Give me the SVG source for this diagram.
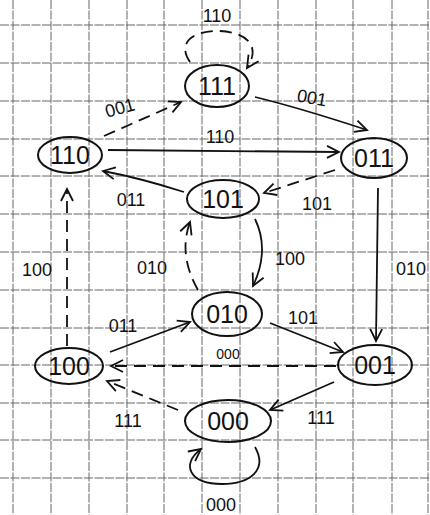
<svg xmlns="http://www.w3.org/2000/svg" width="430" height="515" viewBox="0 0 430 515">
<style>
.grid line{stroke:#666;stroke-width:1;stroke-dasharray:9,1.5}
.node ellipse{fill:none;stroke:#111;stroke-width:2}
.node text{font-family:"Liberation Sans",Arial,sans-serif;font-size:25px;fill:#111;text-anchor:middle}
.edge{fill:none;stroke:#111;stroke-width:1.8;marker-end:url(#arr)}
.dash{stroke-dasharray:12,7}
.lbl{font-family:"Liberation Sans",Arial,sans-serif;font-size:18px;fill:#111;text-anchor:middle}
</style>
<defs>
<marker id="arr" markerUnits="userSpaceOnUse" markerWidth="16" markerHeight="16" refX="13" refY="7" orient="auto" viewBox="0 0 16 14">
<path d="M1,1 L13,7 L1,13" fill="none" stroke="#111" stroke-width="1.8"/>
</marker>
</defs>
<rect width="430" height="515" fill="#fff"/>
<g class="grid">
<line x1="13" y1="0" x2="13" y2="515"/><line x1="51" y1="0" x2="51" y2="515"/><line x1="89" y1="0" x2="89" y2="515"/><line x1="127" y1="0" x2="127" y2="515"/><line x1="164" y1="0" x2="164" y2="515"/><line x1="202" y1="0" x2="202" y2="515"/><line x1="240" y1="0" x2="240" y2="515"/><line x1="278" y1="0" x2="278" y2="515"/><line x1="316" y1="0" x2="316" y2="515"/><line x1="353" y1="0" x2="353" y2="515"/><line x1="392" y1="0" x2="392" y2="515"/><line x1="428" y1="0" x2="428" y2="515"/>
<line x1="0" y1="25" x2="430" y2="25"/><line x1="0" y1="63" x2="430" y2="63"/><line x1="0" y1="101" x2="430" y2="101"/><line x1="0" y1="139" x2="430" y2="139"/><line x1="0" y1="176" x2="430" y2="176"/><line x1="0" y1="214" x2="430" y2="214"/><line x1="0" y1="252" x2="430" y2="252"/><line x1="0" y1="290" x2="430" y2="290"/><line x1="0" y1="328" x2="430" y2="328"/><line x1="0" y1="365" x2="430" y2="365"/><line x1="0" y1="403" x2="430" y2="403"/><line x1="0" y1="440" x2="430" y2="440"/><line x1="0" y1="478" x2="430" y2="478"/>
</g>
<g id="edges">
<path class="edge dash" d="M190,62 C175,40 198,30 220,31 C245,32 262,45 247,68"/>
<text class="lbl" x="217" y="22">110</text>
<path class="edge dash" d="M104,136 L181,102"/>
<text class="lbl" x="120" y="114" transform="rotate(-15 120 108)">001</text>
<path class="edge" d="M255,97 Q300,108 367,130"/>
<text class="lbl" x="312" y="104" transform="rotate(10 312 98)">001</text>
<path class="edge" d="M108,150 L339,152"/>
<text class="lbl" x="220" y="143">110</text>
<path class="edge" d="M184,192 Q140,178 103,171"/>
<text class="lbl" x="131" y="206">011</text>
<path class="edge dash" d="M335,170 L264,193"/>
<text class="lbl" x="317" y="210">101</text>
<path class="edge dash" d="M67,346 L67,189"/>
<text class="lbl" x="37" y="276">100</text>
<path class="edge dash" d="M198,290 Q178,255 190,222"/>
<text class="lbl" x="152" y="274">010</text>
<path class="edge" d="M255,219 Q270,250 253,286"/>
<text class="lbl" x="290" y="265">100</text>
<path class="edge" d="M378,188 L376,341"/>
<text class="lbl" x="411" y="275">010</text>
<path class="edge" d="M110,352 L190,322"/>
<text class="lbl" x="123" y="332">011</text>
<path class="edge" d="M270,323 L343,352"/>
<text class="lbl" x="303" y="324">101</text>
<path class="edge dash" d="M336,366 L111,366"/>
<text class="lbl" x="228" y="359" style="font-size:14px">000</text>
<path class="edge dash" d="M178,410 L107,381"/>
<text class="lbl" x="128" y="427">111</text>
<path class="edge" d="M334,382 L270,410"/>
<text class="lbl" x="321" y="424">111</text>
<path class="edge" d="M255,447 C268,470 250,484 222,484 C190,484 180,465 201,449"/>
<text class="lbl" x="221" y="511">000</text>
</g>
<g id="n111" class="node"><ellipse cx="217" cy="86" rx="32" ry="21"/><text x="217" y="95">111</text></g>
<g id="n110" class="node"><ellipse cx="70" cy="155" rx="32" ry="18"/><text x="70" y="164">110</text></g>
<g id="n011" class="node"><ellipse cx="374" cy="158" rx="33" ry="20"/><text x="374" y="167">011</text></g>
<g id="n101" class="node"><ellipse cx="223" cy="199" rx="36" ry="19"/><text x="223" y="208">101</text></g>
<g id="n010" class="node"><ellipse cx="227" cy="314" rx="35" ry="22"/><text x="227" y="323">010</text></g>
<g id="n100" class="node"><ellipse cx="69" cy="366" rx="34" ry="18"/><text x="69" y="375">100</text></g>
<g id="n001" class="node"><ellipse cx="375" cy="365" rx="37" ry="20"/><text x="375" y="374">001</text></g>
<g id="n000" class="node"><ellipse cx="228" cy="421" rx="43" ry="21"/><text x="228" y="430">000</text></g>
</svg>
